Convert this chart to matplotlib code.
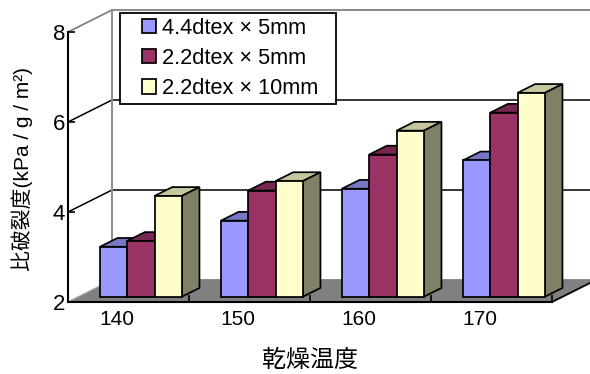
import matplotlib
matplotlib.use("Agg")
import matplotlib.pyplot as plt
from matplotlib.patches import Polygon, Patch, Rectangle

plt.rcParams["font.family"] = ["Liberation Sans", "Noto Sans CJK JP"]

categories = ["140", "150", "160", "170"]
series_names = ["4.4dtex × 5mm", "2.2dtex × 5mm", "2.2dtex × 10mm"]
fine_short = [3.11, 3.69, 4.40, 5.03]
thick_short = [3.24, 4.36, 5.16, 6.09]
thick_long = [4.24, 4.57, 5.69, 6.53]
series_values = [fine_short, thick_short, thick_long]
front_colors = ["#9999ff", "#993366", "#ffffcc"]
top_colors = ["#7777c6", "#772850", "#c6c69e"]
side_colors = ["#4d4d80", "#4d1a33", "#808066"]
y_ticks = [2, 4, 6, 8]

# oblique projection: depth 1 is the back wall
DX = 44 / 121
DY = 22 / 45
BAR_W = 27.3 / 121
BAR_START = 21.4 / 121
BAR_D0 = 0.24
BAR_D1 = 0.64


def project(x, y, d):
    return (x + d * DX, y + d * DY)


fig = plt.figure(figsize=(5.9, 3.74), dpi=100)
ax = fig.add_axes([68 / 590, 1 - 302 / 374, 484 / 590, 270 / 374])
ax.set_xlim(0, 4)
ax.set_ylim(2, 8)
ax.patch.set_visible(False)

n_cat = len(categories)

# floor
floor = [project(0, 2, 0), project(n_cat, 2, 0), project(n_cat, 2, 1), project(0, 2, 1)]
ax.add_patch(Polygon(floor, closed=True, facecolor="#808080", edgecolor="none",
                     clip_on=False, zorder=1))
ax.plot(*zip(project(0, 2, 0), project(0, 2, 1)), color="#a0a0a0", lw=1, clip_on=False, zorder=1.5)
ax.plot(*zip(project(n_cat, 2, 0), project(n_cat, 2, 1)), color="black", lw=1.3, clip_on=False, zorder=2)

# back wall and side wall lines
for v in y_ticks:
    c = "#808080" if v in (2, 8) else "black"
    pts = [project(0, v, 0), project(0, v, 1), project(n_cat, v, 1)]
    if v == 2:
        pts = pts[1:]
    ax.plot(*zip(*pts), color=c, lw=1.3 if v in (2, 8) else 1.1, clip_on=False, zorder=1.2)
ax.plot(*zip(project(0, 2, 1), project(0, 8, 1)), color="#909090", lw=1.5, clip_on=False, zorder=1.3)

# bars, left to right so each front covers the neighbour's side
z = 3
for i in range(n_cat):
    for s, values in enumerate(series_values):
        v = values[i]
        x0 = i + BAR_START + s * BAR_W
        x1 = x0 + BAR_W
        front = [project(x0, 2, BAR_D0), project(x1, 2, BAR_D0),
                 project(x1, v, BAR_D0), project(x0, v, BAR_D0)]
        top = [project(x0, v, BAR_D0), project(x1, v, BAR_D0),
               project(x1, v, BAR_D1), project(x0, v, BAR_D1)]
        side = [project(x1, 2, BAR_D0), project(x1, 2, BAR_D1),
                project(x1, v, BAR_D1), project(x1, v, BAR_D0)]
        for pts, col in ((top, top_colors[s]), (side, side_colors[s]), (front, front_colors[s])):
            ax.add_patch(Polygon(pts, closed=True, facecolor=col, edgecolor="black",
                                 lw=1.25, joinstyle="miter", clip_on=False, zorder=z))
        z += 1

# axes
for name in ("top", "right"):
    ax.spines[name].set_visible(False)
for name in ("left", "bottom"):
    ax.spines[name].set_linewidth(1.5)
    ax.spines[name].set_zorder(50)
ax.set_yticks(y_ticks)
ax.set_xticks(range(n_cat + 1))
ax.set_xticklabels([])
ax.set_xticks([i + 0.405 for i in range(n_cat)], minor=True)
ax.set_xticklabels(categories, minor=True, fontsize=15)
ax.tick_params(axis="x", which="major", direction="in", length=5, width=1.2)
ax.tick_params(axis="x", which="minor", length=0, pad=6)
ax.tick_params(axis="y", direction="in", length=5, width=1.2, labelsize=16, pad=2)

fig.text(22 / 590, 1 - 169 / 374, "比破裂度(kPa / g / m²)", rotation=90, fontsize=15,
         ha="center", va="center")
fig.text(310 / 590, 1 - 361 / 374, "乾燥温度", fontsize=17.3, ha="center", va="center")

# legend box is drawn separately so its side margins can differ from the top and bottom
fig.add_artist(Rectangle((120 / 590, 1 - 104 / 374), 216 / 590, 91.5 / 374,
                         transform=fig.transFigure, facecolor="white", edgecolor="black",
                         lw=1.3, zorder=90))
handles = [Patch(facecolor=c, edgecolor="black", lw=1.25) for c in front_colors]
leg = fig.legend(handles, series_names, loc="upper left",
                 bbox_to_anchor=(142 / 590, 1 - 17.5 / 374), bbox_transform=fig.transFigure,
                 fontsize=15.7, frameon=False,
                 handlelength=0.64, handleheight=0.64, handletextpad=0.27, labelspacing=0.43,
                 borderpad=0, borderaxespad=0)
leg.set_zorder(100)

fig.savefig("out.png", dpi=100)
